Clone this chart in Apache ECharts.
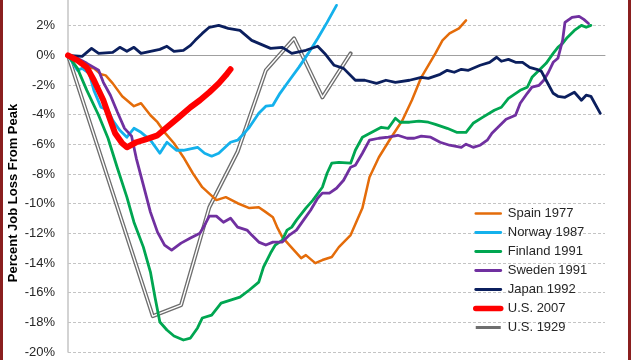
<!DOCTYPE html>
<html>
<head>
<meta charset="utf-8">
<script src="https://cdn.jsdelivr.net/npm/echarts@6/dist/echarts.min.js"></script>
<style>
  html, body { margin: 0; padding: 0; background: #fff; overflow: hidden; }
  #chart { position: absolute; left: 0; top: -10px; width: 631px; height: 370px; }
  .edge { position: absolute; top: 0; width: 3px; height: 360px; background: #8a1f1f; }
</style>
</head>
<body>
<div id="chart"></div>
<div class="edge" style="left:0"></div>
<div class="edge" style="left:628px"></div>
<script>
// Months after the employment peak (x) and percent job loss from peak (y)
const spainM = [0,4,8,11,14,16,19,23,28,31,35,38,41,45,49,53,57,63,67,72,77,81,84,87,89,91,94,99,101,105,108,112,115,120,125,128,132,137,142,146,150,156,159,162,166,169];
const spainV = [0,-0.34,-0.81,-0.88,-1.28,-1.35,-1.89,-2.76,-3.43,-3.23,-4.04,-4.51,-5.19,-5.93,-6.87,-7.95,-8.89,-9.76,-9.56,-9.97,-10.3,-10.24,-10.57,-10.91,-11.65,-12.26,-12.79,-13.67,-13.47,-14.01,-13.8,-13.6,-12.93,-12.12,-10.3,-8.22,-6.87,-5.59,-4.38,-3.03,-1.48,0.13,1.01,1.48,1.82,2.36];

const norwayM = [0,4,6,9,11,14,17,19,22,25,28,31,35,39,42,46,49,55,58,61,64,69,72,74,77,81,84,87,90,94,98,102,106,110,114];
const norwayV = [0,-1.01,-0.88,-1.21,-2.36,-3.5,-3.7,-4.38,-5.05,-5.52,-4.92,-5.19,-5.72,-6.6,-5.86,-6.4,-6.4,-6.2,-6.6,-6.8,-6.6,-5.86,-5.72,-5.39,-4.85,-3.91,-3.43,-3.37,-2.56,-1.68,-0.81,0.13,1.14,2.22,3.37];

const finlandM = [0,4,8,13,17,21,25,28,32,35,37,39,42,45,49,52,55,57,61,65,69,73,77,81,83,86,88,91,93,95,97,101,104,108,110,112,115,120,122,125,129,133,136,139,141,145,149,153,156,161,165,169,172,176,181,184,187,192,195,197,200,203,206,208,210,212,215,218,220,222];
const finlandV = [0,-0.88,-2.36,-4.04,-5.59,-7.61,-9.56,-11.25,-12.93,-14.61,-16.36,-17.98,-18.52,-18.92,-19.19,-19.06,-18.38,-17.71,-17.51,-16.7,-16.5,-16.3,-15.82,-15.29,-14.28,-13.33,-12.79,-12.46,-11.78,-11.58,-11.11,-10.3,-9.76,-8.89,-7.95,-7.27,-7.21,-7.27,-6.4,-5.52,-5.19,-4.85,-4.92,-4.24,-4.51,-4.51,-4.44,-4.51,-4.65,-4.92,-5.19,-5.19,-4.58,-4.18,-3.7,-3.5,-2.9,-2.36,-2.15,-1.48,-1.01,-0.54,0.13,0.54,0.81,1.21,1.68,2.02,1.89,2.02];

const swedenM = [0,4,8,13,15,18,21,24,27,29,32,35,38,41,44,48,52,56,58,60,63,66,69,72,76,78,81,84,87,91,94,97,100,103,106,108,111,114,117,120,122,125,128,132,136,140,144,147,150,154,158,162,167,169,172,175,178,180,183,186,190,192,195,197,200,202,204,206,208,210,211,214,217,219,221];
const swedenV = [0,-0.2,-0.54,-1.01,-1.82,-2.69,-3.84,-4.92,-5.45,-6.94,-8.75,-10.57,-11.92,-12.79,-13.13,-12.66,-12.32,-11.99,-11.45,-10.84,-10.84,-11.25,-10.98,-11.58,-11.78,-12.12,-12.59,-12.79,-12.59,-12.59,-12.12,-11.78,-11.11,-10.44,-9.63,-9.29,-9.29,-8.96,-8.42,-7.54,-7.41,-6.6,-5.72,-5.59,-5.52,-5.39,-5.59,-5.59,-5.45,-5.52,-5.86,-6.06,-6.2,-5.99,-6.2,-6.06,-5.72,-5.25,-4.78,-4.31,-4.04,-3.23,-2.56,-2.15,-2.02,-1.68,-1.14,-0.47,-0.2,1.01,2.22,2.56,2.63,2.42,2.15];

const japanM = [0,6,10,13,19,22,25,28,31,35,39,42,45,49,52,54,57,60,64,68,73,78,86,91,95,101,106,109,113,117,122,126,131,135,139,145,150,153,158,161,164,167,170,175,179,182,184,187,190,193,196,199,201,203,206,208,211,215,218,220,222,226];
const japanV = [0,-0.07,0.47,0.13,0.2,0.54,0.27,0.54,0.13,0.27,0.4,0.61,0.27,0.34,0.67,1.01,1.48,1.89,2.02,1.82,1.68,1.01,0.47,0.54,0.13,0.34,0.61,0.13,-0.67,-0.88,-1.68,-1.68,-1.89,-1.68,-1.82,-1.68,-1.48,-1.55,-1.28,-1.01,-1.14,-0.94,-1.01,-0.67,-0.47,-0.13,-0.4,-0.27,-0.47,-0.47,-0.81,-0.94,-1.08,-1.68,-2.56,-2.76,-2.83,-2.49,-3.03,-2.69,-2.76,-3.91];

const us2007M = [0,4,8,11,15,18,20,23,25,29,33,38,42,47,52,56,60,64,67,69];
const us2007V = [0,-0.34,-0.81,-1.68,-3.03,-4.38,-5.25,-5.93,-6.2,-5.86,-5.66,-5.39,-4.85,-4.18,-3.5,-3.03,-2.49,-1.89,-1.35,-0.94];

const us1929M = [0,36,48,60,72,84,96,108,120];
const us1929V = [0,-17.58,-16.84,-10.24,-6.5,-1.01,1.14,-2.83,0.13];

const yTicks = [-20,-18,-16,-14,-12,-10,-8,-6,-4,-2,0,2,4];
const yTitle = 'Percent Job Loss From Peak';

const pairs = (m, v) => m.map((x, i) => [x, v[i]]);

const chart = echarts.init(document.getElementById('chart'), null, { renderer: 'canvas' });

function lineSeries(name, m, v, color, width, z) {
  return {
    name: name, type: 'line', data: pairs(m, v), symbol: 'none', showSymbol: false, smooth: false,
    z: z, color: color,
    lineStyle: { color: color, width: width, cap: 'round', join: 'round' },
    emphasis: { disabled: true }, silent: true
  };
}

const series = [
  lineSeries('U.S. 1929', us1929M, us1929V, '#6e6e6e', 4, 2),
  {
    name: 'U.S. 1929 inner', type: 'line', data: pairs(us1929M, us1929V), symbol: 'none',
    z: 2, lineStyle: { color: '#ffffff', width: 1.4, join: 'round' }, silent: true, emphasis: { disabled: true }
  },
  lineSeries('Spain 1977', spainM, spainV, '#e46c0a', 2.5, 3),
  lineSeries('Norway 1987', norwayM, norwayV, '#14b1ec', 2.8, 3),
  lineSeries('Finland 1991', finlandM, finlandV, '#00a651', 2.8, 3),
  lineSeries('Sweden 1991', swedenM, swedenV, '#7030a0', 2.8, 3),
  lineSeries('Japan 1992', japanM, japanV, '#0b1f5e', 2.8, 3),
  lineSeries('U.S. 2007', us2007M, us2007V, '#ff0000', 6, 4)
];

chart.setOption({
  animation: false,
  backgroundColor: '#ffffff',
  grid: { left: 68, right: 26, top: 6, bottom: 8, containLabel: false, outerBoundsMode: 'none' },
  graphic: [{
    type: 'text', x: 13, y: 203, rotation: Math.PI / 2, silent: true,
    style: {
      text: yTitle, align: 'center', verticalAlign: 'middle',
      font: 'bold 13px "Liberation Sans", Arial, sans-serif', fill: '#000'
    }
  }],
  xAxis: {
    type: 'value', min: 0, max: 228,
    axisLine: { show: true, onZero: true, lineStyle: { color: '#a0a0a0', width: 1 } },
    axisTick: { show: false }, axisLabel: { show: false }, splitLine: { show: false }
  },
  yAxis: {
    type: 'value', min: yTicks[0], max: yTicks[yTicks.length - 1], interval: 2,
    axisLine: { show: true, lineStyle: { color: '#c4c4c4', width: 1.5 } },
    axisTick: { show: false },
    axisLabel: { formatter: '{value}%', margin: 13, fontFamily: 'Liberation Sans, Arial, sans-serif', fontSize: 13, color: '#262626', showMaxLabel: true },
    splitLine: { show: true, lineStyle: { color: '#c4c4c4', type: [3, 2], width: 1 } }
  },
  legend: {
    orient: 'vertical', left: 473, top: 217, padding: 0,
    itemWidth: 25, itemHeight: 14, itemGap: 6,
    itemStyle: { opacity: 0 },
    lineStyle: { width: 'inherit', cap: 'round' },
    data: [
      { name: 'Spain 1977' }, { name: 'Norway 1987' }, { name: 'Finland 1991' },
      { name: 'Sweden 1991' }, { name: 'Japan 1992' },
      { name: 'U.S. 2007', lineStyle: { width: 5.5, cap: 'round' } },
      { name: 'U.S. 1929', lineStyle: { width: 3, cap: 'butt' } }
    ],
    textStyle: { fontFamily: 'Liberation Sans, Arial, sans-serif', fontSize: 13, color: '#262626', padding: [0, 0, 0, 2] },
    selectedMode: false
  },
  series: series
});
</script>
</body>
</html>
